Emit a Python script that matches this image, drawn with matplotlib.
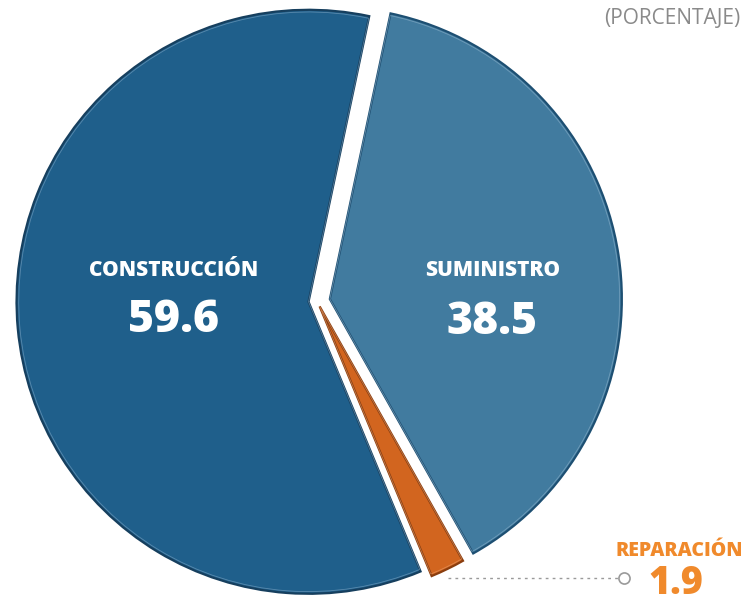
import matplotlib
matplotlib.use("Agg")
import matplotlib.pyplot as plt

categories = ["SUMINISTRO", "REPARACIÓN", "CONSTRUCCIÓN"]
values = [38.5, 1.9, 59.6]
value_labels = ["38.5", "1.9", "59.6"]
title = "(PORCENTAJE)"

colors = ["#417b9f", "#d2651f", "#1f5f8b"]
edges = ["#1d4f72", "#8a3d0e", "#163f5e"]
inner = ["#8fb3cc", "#e8a070", "#7fa6c4"]

W, H = 744, 602
fig = plt.figure(figsize=(W / 100, H / 100), dpi=100)
ax = fig.add_axes([0, 0, 1, 1])
ax.set_xlim(0, W)
ax.set_ylim(0, H)
ax.set_aspect("equal")
ax.axis("off")

cx, cy, r = 317, H - 301, 292
explode = [13, 6, 8.5]
wedges, _ = ax.pie(values, colors=colors, startangle=78, counterclock=False,
                   radius=r, center=(cx, cy), explode=explode,
                   wedgeprops=dict(linewidth=1.6))
for w, ec in zip(wedges, edges):
    w.set_edgecolor(ec)
# thin light inner highlight line
hl, _ = ax.pie(values, colors=["none"] * 3, startangle=78, counterclock=False,
               radius=r - 2.2, center=(cx, cy), explode=explode,
               wedgeprops=dict(linewidth=0.6, fill=False))
for w, ic in zip(hl, inner):
    w.set_edgecolor(ic)
    w.set_alpha(0.6)
ax.set_xlim(0, W)
ax.set_ylim(0, H)
ax.set_aspect("equal")

font = ["Open Sans", "DejaVu Sans"]
wt = 800
# Construcción
ax.text(174, H - 270, categories[2], color="white", fontsize=15,
        fontweight=wt, family=font, ha="center", va="center")
ax.text(174, H - 320, value_labels[2], color="white", fontsize=32,
        fontweight=wt, family=font, ha="center", va="center")
# Suministro
ax.text(493, H - 270, categories[0], color="white", fontsize=15,
        fontweight=wt, family=font, ha="center", va="center")
ax.text(492, H - 322, value_labels[0], color="white", fontsize=32,
        fontweight=wt, family=font, ha="center", va="center")
# Reparación
ax.text(743, H - 551, categories[1], color="#f08a2c", fontsize=14,
        fontweight=wt, family=font, ha="right", va="center")
ax.text(676, H - 584, value_labels[1], color="#f08a2c", fontsize=27,
        fontweight=wt, family=font, ha="center", va="center")
ax.plot([448, 618], [H - 578, H - 578], color="#9a9a9a", lw=1,
        ls=(0, (2, 3)))
ax.plot([624], [H - 578], marker="o", ms=8, mfc="white", mec="#9a9a9a",
        mew=1.2)

ax.text(740, H - 19, title, color="#8a8a8a", fontsize=15,
        family=["Open Sans", "DejaVu Sans"], ha="right", va="center")

fig.savefig("out.png", dpi=100)
